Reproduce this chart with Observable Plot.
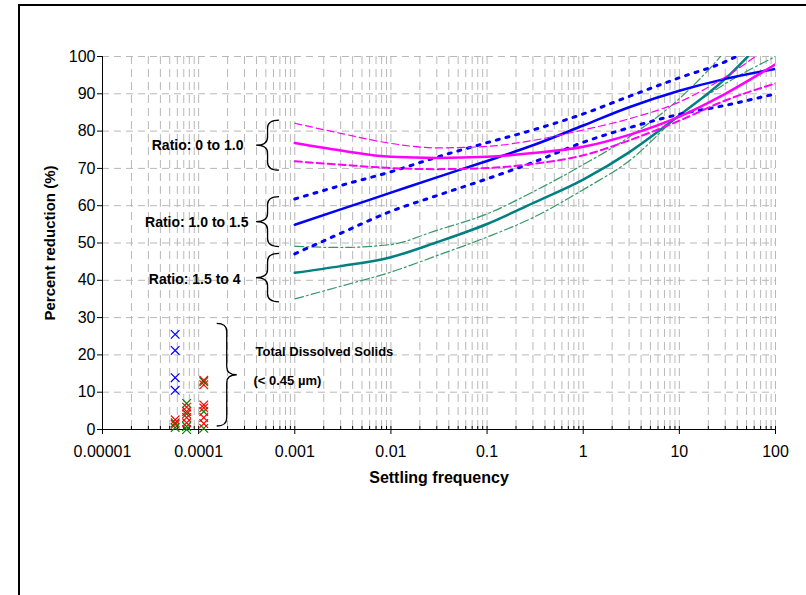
<!DOCTYPE html>
<html><head><meta charset="utf-8">
<script src="https://cdn.jsdelivr.net/npm/d3@7"></script>
<script src="https://cdn.jsdelivr.net/npm/@observablehq/plot@0.6"></script>
<style>
body{margin:0;background:#fff;}
#wrap{position:relative;width:806px;height:595px;overflow:hidden;background:#fff;}
#frame{position:absolute;left:18px;top:4px;width:1200px;height:1200px;border:2px solid #000;box-sizing:border-box;pointer-events:none;}
#chart{position:absolute;left:0;top:0;}
</style></head><body>
<div id="wrap"><div id="chart"></div><div id="frame"></div></div>
<script>
// ---- axis ticks ----
const xTicks = [0.00001, 0.0001, 0.001, 0.01, 0.1, 1, 10, 100];
const xTickLabels = ["0.00001", "0.0001", "0.001", "0.01", "0.1", "1", "10", "100"];
const yTicks = [0, 10, 20, 30, 40, 50, 60, 70, 80, 90, 100];
const yGrid = [10, 20, 30, 40, 50, 60, 70, 80, 90, 100];

// ---- fitted curves (settling frequency vs percent reduction) ----
const xCurve = [0.001, 0.003, 0.01, 0.03, 0.1, 0.3, 1, 3, 10, 30, 100];
const magentaMid   = [76.8, 74.8, 73.1, 72.8, 73.1, 74.1, 75.8, 79.0, 83.9, 90.0, 97.9];
const magentaUpper = [82.1, 79.4, 76.7, 75.5, 75.9, 77.5, 80.3, 83.3, 87.8, 94.5, 104];
const magentaLower = [71.9, 71.0, 70.1, 69.8, 70.1, 71.2, 73.5, 77.5, 82.8, 88.2, 92.8];
const blueMid      = [54.9, 59.0, 63.5, 67.6, 72.0, 76.2, 81.5, 86.4, 90.8, 94.0, 96.7];
const blueUpper    = [61.8, 65.4, 69.1, 73.0, 76.9, 80.3, 84.6, 89.3, 94.3, 98.6, 106];
const blueLower    = [47.1, 52.6, 58.5, 62.7, 67.2, 71.6, 77.0, 80.9, 84.5, 86.9, 90.0];
const tealMid      = [42.0, 43.8, 46.2, 50.2, 55.1, 60.7, 67.0, 74.3, 84.2, 94.0, 108];
const tealUpper    = [49.1, 48.8, 49.6, 53.4, 57.8, 63.7, 71.0, 78.4, 88.7, 101.5, 120];
const tealLower    = [35.0, 38.4, 42.2, 46.6, 51.6, 56.8, 64.3, 72.0, 84.2, 92.7, 100];

// ---- total dissolved solids markers ----
const tdsBlueX = [5.7e-5, 5.7e-5, 5.7e-5, 5.7e-5];
const tdsBlueY = [25.5, 21.2, 13.9, 10.5];
const tdsRedX = [5.7e-5, 5.7e-5, 7.5e-5, 7.5e-5, 7.5e-5, 7.5e-5, 1.13e-4, 1.13e-4, 1.13e-4, 1.13e-4, 1.13e-4, 1.13e-4];
const tdsRedY = [2.6, 1.4, 6.0, 4.8, 3.2, 1.8, 13.2, 12.0, 6.6, 5.8, 3.2, 1.6];
const tdsGreenX = [5.7e-5, 5.7e-5, 7.5e-5, 7.5e-5, 7.5e-5, 7.5e-5, 1.13e-4, 1.13e-4, 1.13e-4];
const tdsGreenY = [1.8, 0.5, 7.0, 4.2, 0.8, 0.0, 12.8, 4.8, 0.3];

// ---- annotations ----
const braceTop    = [82.8, 62.3, 47.1, 28.3];
const braceBottom = [69.4, 48.9, 34.1, 0.8];
const braceTipX   = [4.0e-4, 4.0e-4, 4.0e-4, 2.52e-4];
const braceEndX   = [6.95e-4, 6.95e-4, 6.95e-4, 1.56e-4];
const labelText = ["Ratio: 0 to 1.0", "Ratio: 1.0 to 1.5", "Ratio: 1.5 to 4"];
const labelX = [2.93e-4, 3.30e-4, 2.73e-4];
const labelY = [76.2, 55.4, 40.2];
const tdsText = ["Total Dissolved Solids", "(< 0.45 µm)"];
const tdsTextX = [3.91e-4, 3.72e-4];
const tdsTextY = [20.8, 13.1];

const minorTicks = d3.scaleLog().domain([1e-5, 100]).ticks();
const series = (ys) => xCurve.map((x, i) => ({x, y: ys[i]}));
const pts = (xs, ys) => xs.map((x, i) => ({x, y: ys[i]}));
const line = (ys, o) => Plot.line(series(ys), {x: "x", y: "y", curve: "monotone-x", clip: true, ...o});

const braces = braceTop.map((t, i) => ({t, b: braceBottom[i], tip: braceTipX[i], end: braceEndX[i]}));
const braceMark = (index, scales, values, dimensions, context) => {
  const g = d3.create("svg:g");
  for (const d of braces) {
    const xt = scales.x(d.tip), xe = scales.x(d.end);
    const yt = scales.y(d.t), yb = scales.y(d.b), ym = (yt + yb) / 2;
    const xb = (xt + xe) / 2;
    const c = Math.min(8, (yb - yt) / 5);
    g.append("path")
      .attr("d", `M${xe},${yt} Q${xb},${yt} ${xb},${yt + c} L${xb},${ym - c} Q${xb},${ym} ${xt},${ym} Q${xb},${ym} ${xb},${ym + c} L${xb},${yb - c} Q${xb},${yb} ${xe},${yb}`)
      .attr("fill", "none").attr("stroke", "#000").attr("stroke-width", 1.3);
  }
  return g.node();
};

const chart = Plot.plot({
  width: 806, height: 595,
  marginLeft: 102, marginRight: 31, marginTop: 56, marginBottom: 166,
  style: {fontFamily: "'Liberation Sans', Arial, sans-serif", fontSize: "16px", color: "#000", background: "transparent", overflow: "visible"},
  x: {type: "log", domain: [1e-5, 100], ticks: xTicks, tickFormat: d => xTickLabels[xTicks.indexOf(d)], tickSize: 5, tickPadding: 11, label: null},
  y: {domain: [0, 100], ticks: yTicks, tickSize: 5, tickPadding: 2, label: null},
  marks: [
    Plot.ruleX(minorTicks, {stroke: "#b8b8b8", strokeWidth: 1, strokeDasharray: "8,5"}),
    Plot.ruleY(yGrid, {stroke: "#b8b8b8", strokeWidth: 1, strokeDasharray: "7,5"}),
    Plot.ruleX(minorTicks, {stroke: "#000", insetTop: 370}),
    Plot.ruleX([1e-5], {stroke: "#000"}),
    Plot.ruleY([0], {stroke: "#000"}),
    // curves
    line(tealUpper, {stroke: "#339966", strokeWidth: 1.2, strokeDasharray: "9,3,2,3"}),
    line(tealLower, {stroke: "#339966", strokeWidth: 1.2, strokeDasharray: "9,3,2,3"}),
    line(tealMid, {stroke: "#008080", strokeWidth: 2.5}),
    line(blueUpper, {stroke: "#0000FF", strokeWidth: 3, strokeDasharray: "3,7"}),
    line(blueLower, {stroke: "#0000FF", strokeWidth: 3, strokeDasharray: "3,7"}),
    line(blueMid, {stroke: "#0000FF", strokeWidth: 2.5}),
    line(magentaUpper, {stroke: "#FF00FF", strokeWidth: 1.2, strokeDasharray: "7,4"}),
    line(magentaLower, {stroke: "#FF00FF", strokeWidth: 2, strokeDasharray: "7,4"}),
    line(magentaMid, {stroke: "#FF00FF", strokeWidth: 2.5}),
    // TDS markers
    Plot.dot(pts(tdsBlueX, tdsBlueY), {x: "x", y: "y", symbol: "times", r: 4, stroke: "#0000FF", strokeWidth: 1.2}),
    Plot.dot(pts(tdsGreenX, tdsGreenY), {x: "x", y: "y", symbol: "times", r: 4, stroke: "#008000", strokeWidth: 1.2}),
    Plot.dot(pts(tdsRedX, tdsRedY), {x: "x", y: "y", symbol: "times", r: 4, stroke: "#FF0000", strokeWidth: 1.2}),
    // braces & labels
    braceMark,
    Plot.text(labelText, {x: (d, i) => labelX[i], y: (d, i) => labelY[i], text: d => d, textAnchor: "end", fontWeight: "bold", fontSize: 14}),
    Plot.text(tdsText, {x: (d, i) => tdsTextX[i], y: (d, i) => tdsTextY[i], text: d => d, textAnchor: "start", fontWeight: "bold", fontSize: 13}),
    // axis titles
    Plot.text(["Percent reduction (%)"], {frameAnchor: "left", text: d => d, rotate: -90, dx: -52, textAnchor: "middle", fontWeight: "bold", fontSize: 15}),
    Plot.text(["Settling frequency"], {frameAnchor: "bottom", text: d => d, dy: 53, textAnchor: "middle", fontWeight: "bold", fontSize: 16})
  ]
});
document.getElementById("chart").appendChild(chart);
</script>
</body></html>
